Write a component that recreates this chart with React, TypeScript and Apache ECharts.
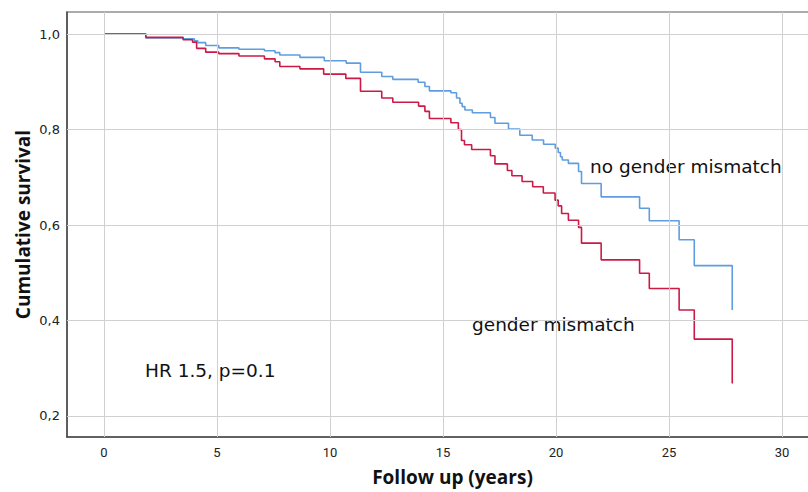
import React, { useEffect, useRef } from "react";
import * as echarts from "echarts";

// Kaplan–Meier steps: [years, cumulative survival]
const noMismatchTimes = [0, 1.85, 3.5, 4.0, 4.15, 4.5, 5.08, 5.97, 7.1, 7.57, 7.78, 8.67, 9.75, 10.72, 11.35, 12.29, 12.78, 13.9, 14.2, 14.4, 15.35, 15.6, 15.75, 15.85, 15.97, 16.3, 17.1, 17.3, 17.9, 18.4, 18.95, 19.45, 19.97, 20.1, 20.2, 20.28, 20.55, 21.0, 21.13, 22.0, 23.7, 24.13, 25.45, 26.12, 27.8];
const noMismatchSurv = [1.0, 0.992, 0.99, 0.986, 0.982, 0.976, 0.971, 0.968, 0.965, 0.961, 0.956, 0.951, 0.944, 0.939, 0.92, 0.911, 0.905, 0.899, 0.89, 0.881, 0.877, 0.866, 0.855, 0.848, 0.841, 0.835, 0.825, 0.813, 0.801, 0.788, 0.778, 0.769, 0.761, 0.752, 0.743, 0.736, 0.729, 0.712, 0.687, 0.659, 0.635, 0.609, 0.569, 0.515, 0.422];

const mismatchTimes = [0, 1.85, 3.5, 3.92, 4.1, 4.5, 5.08, 5.97, 7.1, 7.57, 7.78, 8.67, 9.72, 10.7, 11.35, 12.29, 12.78, 13.92, 14.2, 14.4, 15.35, 15.68, 15.82, 15.95, 16.27, 17.1, 17.3, 17.85, 18.05, 18.5, 18.97, 19.44, 19.96, 20.1, 20.25, 20.55, 21.0, 21.13, 22.0, 23.7, 24.13, 25.45, 26.12, 27.8];
const mismatchSurv = [1.0, 0.993, 0.988, 0.983, 0.97, 0.962, 0.959, 0.954, 0.948, 0.942, 0.932, 0.927, 0.916, 0.907, 0.88, 0.866, 0.857, 0.849, 0.838, 0.823, 0.814, 0.8, 0.777, 0.768, 0.758, 0.745, 0.728, 0.714, 0.703, 0.691, 0.68, 0.667, 0.652, 0.64, 0.624, 0.61, 0.595, 0.562, 0.527, 0.499, 0.467, 0.422, 0.361, 0.268];

const xTicks = [0, 5, 10, 15, 20, 25, 30];
const yTicks = [0.2, 0.4, 0.6, 0.8, 1.0];

const BLUE = "#5f9ddf";
const RED = "#cc1a47";
const GRID = "#d0d0d0";

function pairs(t: number[], s: number[]) {
  return t.map((v, i) => [v, s[i]]);
}

export default function App() {
  const ref = useRef<HTMLDivElement>(null);
  useEffect(() => {
    document.body.style.margin = "0";
    const chart = echarts.init(ref.current!, null, { renderer: "svg" });
    chart.setOption({
      animation: false,
      backgroundColor: "#ffffff",
      grid: {
        left: 67,
        top: 12,
        width: 771,
        height: 425,
        outerBoundsMode: "none",
        containLabel: false,
        show: true,
        borderColor: "#5a5a5a",
        borderWidth: 1.2,
      },
      xAxis: {
        type: "value",
        min: -1.637,
        max: 32.48,
        axisLine: { show: true, onZero: false, lineStyle: { color: "#4a4a4a", width: 1.5 } },
        axisTick: { show: false },
        splitLine: { show: false },
        axisLabel: {
          customValues: xTicks,
          color: "#222",
          fontSize: 13,
          fontFamily: "Roboto",
          margin: 9,
          formatter: (v: number) => String(v),
        },
        name: "Follow up (years)",
        nameLocation: "middle",
        nameGap: 30,
        nameTextStyle: { color: "#111", fontSize: 19, fontWeight: "bold", fontFamily: "Open Sans" },
      },
      yAxis: {
        type: "value",
        min: 0.156,
        max: 1.0461,
        axisLine: { show: true, onZero: false, lineStyle: { color: "#4a4a4a", width: 1.5 } },
        axisTick: { show: false },
        splitLine: { show: false },
        axisLabel: {
          customValues: yTicks,
          color: "#222",
          fontSize: 13,
          fontFamily: "DejaVu Sans",
          margin: 7,
          formatter: (v: number) => v.toFixed(1).replace(".", ","),
        },
        name: "Cumulative survival",
        nameLocation: "middle",
        nameGap: 35,
        nameMoveOverlap: false,
        nameTextStyle: { color: "#111", fontSize: 19, fontWeight: "bold", fontFamily: "Open Sans" },
      },
      series: [
        {
          name: "grid",
          type: "line",
          data: [],
          silent: true,
          z: 1,
          markLine: {
            silent: true,
            symbol: ["none", "none"],
            label: { show: false },
            emphasis: { disabled: true },
            lineStyle: { color: GRID, width: 1, type: "solid" },
            data: [
              ...xTicks.map((v) => ({ xAxis: v })),
              ...yTicks.map((v) => ({ yAxis: v })),
            ],
          },
        },
        {
          name: "no gender mismatch",
          type: "line",
          step: "end",
          symbol: "none",
          data: pairs(noMismatchTimes, noMismatchSurv),
          lineStyle: { color: BLUE, width: 1.6 },
          z: 3,
        },
        {
          name: "gender mismatch",
          type: "line",
          step: "end",
          symbol: "none",
          data: pairs(mismatchTimes, mismatchSurv),
          lineStyle: { color: RED, width: 1.6 },
          z: 4,
        },
      ],
      graphic: [
        {
          type: "text",
          left: 590,
          top: 157,
          style: { text: "no gender mismatch", fontSize: 18.5, fontFamily: "DejaVu Sans", fill: "#111" },
        },
        {
          type: "text",
          left: 472,
          top: 315,
          style: { text: "gender mismatch", fontSize: 18.5, fontFamily: "DejaVu Sans", fill: "#111" },
        },
        {
          type: "text",
          left: 145,
          top: 361,
          style: { text: "HR 1.5, p=0.1", fontSize: 18.5, fontFamily: "DejaVu Sans", fill: "#111" },
        },
      ],
    });
    return () => chart.dispose();
  }, []);
  return <div ref={ref} style={{ width: 808, height: 492 }} />;
}
